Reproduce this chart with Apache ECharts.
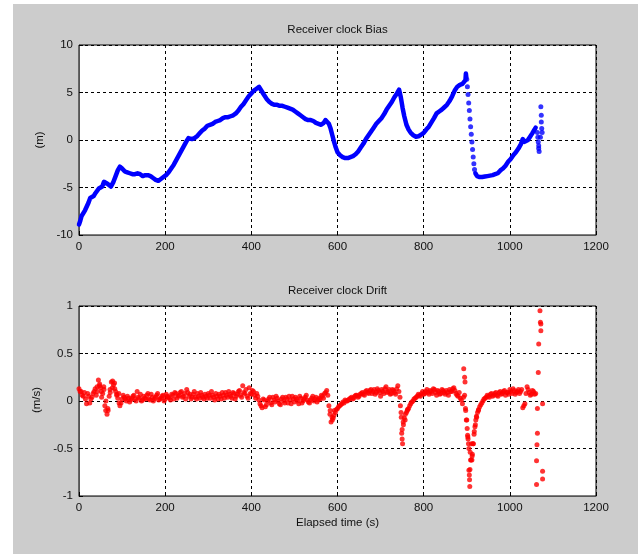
<!DOCTYPE html>
<html>
<head>
<meta charset="utf-8">
<script src="https://cdn.jsdelivr.net/npm/echarts@6/dist/echarts.min.js"></script>
<style>
  html, body { margin: 0; padding: 0; background: #ffffff; }
  #fig { position: absolute; left: 13px; top: 4px; width: 625px; height: 550px; }
</style>
</head>
<body>
<div id="fig"></div>
<script>
// Receiver clock bias (m): continuous trace up to the jump near 900 s
const biasT1 = [0,3,6,10,14,18,22,26,30,34,38,42,46,50,54,58,62,66,70,74,77,80,85,90,95,100,106,112,118,124,130,136,142,148,154,160,166,172,178,184,190,196,202,208,214,220,226,232,238,244,250,254,258,262,268,274,280,286,292,298,304,310,316,322,328,334,340,346,352,358,364,370,376,382,388,394,400,406,412,418,422,426,430,436,442,448,454,460,466,472,478,484,490,496,502,508,514,520,526,532,538,544,550,556,562,568,572,576,580,584,588,592,596,600,606,612,618,624,630,636,642,648,654,660,666,672,678,684,690,696,702,708,714,720,726,732,738,743,747,751,755,760,765,770,776,782,788,794,800,806,812,818,824,830,836,842,848,854,860,866,872,878,884,890,894,897,898,899];
const biasV1 = [-8.9,-8.5,-8.0,-7.8,-7.4,-7.2,-6.6,-6.1,-6.0,-5.9,-5.6,-5.4,-5.1,-5.0,-4.9,-4.4,-4.3,-4.6,-4.5,-4.9,-5.1,-4.4,-3.8,-3.2,-2.8,-3.0,-3.3,-3.4,-3.5,-3.6,-3.6,-3.5,-3.6,-3.8,-3.7,-3.7,-3.8,-4.0,-4.2,-4.3,-4.1,-3.9,-3.7,-3.4,-3.0,-2.6,-2.1,-1.6,-1.1,-0.6,-0.1,0.2,0.2,0.1,0.2,0.4,0.7,1.0,1.2,1.5,1.6,1.7,1.9,2.0,2.1,2.3,2.4,2.4,2.5,2.6,2.8,3.1,3.5,3.8,4.2,4.6,4.9,5.2,5.4,5.6,5.4,5.0,4.7,4.3,4.0,3.8,3.7,3.7,3.6,3.6,3.5,3.4,3.3,3.2,3.0,2.8,2.6,2.4,2.2,2.1,2.1,2.0,1.8,1.7,1.6,1.8,2.1,1.9,1.7,1.2,0.5,-0.2,-0.8,-1.3,-1.6,-1.8,-1.9,-1.9,-1.8,-1.7,-1.5,-1.2,-0.8,-0.4,0.1,0.5,0.9,1.3,1.7,2.0,2.3,2.7,3.2,3.6,4.0,4.5,4.9,5.3,4.5,3.4,2.5,1.6,1.1,0.75,0.5,0.35,0.4,0.55,0.75,1.1,1.4,1.85,2.3,2.8,3.0,3.2,3.45,3.7,4.1,4.6,5.2,5.6,5.8,5.9,6.0,6.3,7.0,6.6];
// Individual samples during the fast drop after 900 s
const biasDropT = [900,901.5,903,904.5,906,907.5,909,910.5,912,913.5,915,916.5,918];
const biasDropV = [6.4,5.6,4.8,3.9,3.1,2.2,1.4,0.6,-0.2,-1.0,-1.8,-2.5,-3.1];
// Continuous trace after the drop
const biasT2 = [920,924,930,936,942,948,954,960,966,972,978,984,990,996,1002,1008,1014,1020,1026,1030,1034,1038,1042,1047,1052,1056,1060];
const biasV2 = [-3.5,-3.8,-3.9,-3.9,-3.85,-3.8,-3.75,-3.7,-3.6,-3.5,-3.2,-3.0,-2.7,-2.3,-2.0,-1.6,-1.3,-0.9,-0.4,0.1,-0.2,-0.4,0.0,0.35,0.7,1.0,1.3];
// Scattered samples at the end of the record
const biasEndT = [1064,1065,1066,1067,1067,1068,1071,1072,1073,1073,1074,1075];
const biasEndV = [0.8,0.3,-0.2,-0.6,-0.9,-1.2,0.3,3.5,2.6,1.9,1.2,0.8];

// Receiver clock drift (m/s), samples every 5 s from 0 s to 1060 s
const driftStart = 0;
const driftStep = 5;
const driftV = [
  0.13,0.10,0.05,0.02,0.08,-0.02,0.04,0.10,0.06,
  0.22,0.14,0.08,-0.05,-0.14,0.05,0.20,0.17,0.10,0.03,-0.05,0.02,
  0.04,0.00,0.03,0.01,0.05,0.02,0.10,0.03,0.00,0.05,0.02,0.08,0.01,0.04,0.02,0.06,0.01,0.03,0.06,0.02,
  0.05,0.03,0.07,0.02,0.08,0.05,0.09,0.04,0.08,0.12,0.05,0.02,0.07,0.04,0.08,0.03,0.06,0.02,0.05,0.08,
  0.03,0.06,0.01,0.05,0.07,0.02,0.06,0.09,0.04,0.07,0.03,0.08,0.05,0.10,0.06,0.16,0.08,0.05,0.14,0.07,
  0.10,0.03,0.05,-0.03,-0.07,0.01,-0.04,0.02,-0.02,0.04,-0.01,0.03,-0.03,0.02,0.00,0.04,-0.02,0.01,0.05,-0.01,
  0.02,-0.03,0.03,0.00,0.04,0.01,-0.02,0.03,0.00,0.04,0.01,0.02,0.05,0.08,0.11,-0.05,
  -0.22,-0.18,-0.12,-0.08,-0.05,-0.03,-0.02,0.00,0.01,0.03,0.02,0.05,0.06,0.05,0.08,0.07,0.10,0.09,0.11,0.08,
  0.12,0.09,0.11,0.05,0.10,0.13,0.09,0.12,0.08,0.11,0.07,0.16,0.04,
  -0.30,-0.18,-0.12,-0.08,-0.03,0.00,0.03,0.05,0.06,0.08,0.07,0.10,0.09,0.11,0.08,0.12,0.06,0.10,0.08,0.11,
  0.07,0.09,0.12,0.10,0.14,0.08,0.05,0.03,-0.03,0.06,
  -0.20,-0.50,-0.62,-0.45,-0.25,-0.12,-0.06,-0.02,0.02,0.04,0.05,0.07,0.05,0.08,0.06,0.09,0.07,0.10,0.06,0.09,
  0.12,0.08,0.11,0.09,0.12,0.10,-0.07,-0.03,0.15,0.09,0.07,0.10,0.08
];
// Interleaved drift samples, every 5 s from 2.5 s to 1057.5 s
const driftMidStart = 2.5;
const driftMidV = [
  0.10,0.06,0.09,-0.03,0.05,0.02,0.08,0.13,0.10,0.16,
  0.04,0.15,0.00,-0.10,0.09,0.14,0.19,0.06,0.08,-0.02,
  0.06,0.02,0.05,-0.01,0.03,0.06,0.00,0.04,0.07,0.01,
  0.03,0.06,0.02,0.07,0.00,0.04,0.08,0.02,0.05,0.00,
  0.07,0.04,0.01,0.06,0.09,0.03,0.06,0.10,0.05,0.02,
  0.09,0.07,0.04,0.10,0.02,0.05,0.09,0.04,0.07,0.03,
  0.06,0.10,0.04,0.08,0.02,0.05,0.09,0.03,0.06,0.10,
  0.05,0.09,0.02,0.07,0.11,0.04,0.09,0.12,0.03,0.08,
  0.11,0.06,0.08,0.01,-0.05,0.02,-0.06,0.00,0.04,-0.04,
  0.01,0.05,0.00,-0.04,0.04,-0.02,0.02,0.05,-0.03,0.02,
  0.04,0.00,0.05,-0.02,0.02,0.06,-0.01,0.01,0.05,0.02,
  -0.01,0.03,0.06,0.03,0.09,0.06,-0.14,-0.17,-0.10,-0.09,
  -0.06,-0.04,-0.01,0.01,0.00,0.02,0.04,0.03,0.06,0.04,
  0.07,0.09,0.06,0.11,0.08,0.12,0.10,0.07,0.13,0.09,
  0.12,0.08,0.15,0.10,0.07,0.12,0.09,0.13,0.10,-0.12,
  -0.22,-0.14,-0.09,-0.05,-0.01,0.02,0.04,0.07,0.05,0.10,
  0.08,0.12,0.07,0.10,0.13,0.09,0.11,0.07,0.12,0.09,
  0.11,0.06,0.10,0.13,0.11,0.06,0.09,0.01,0.04,-0.10,
  -0.38,-0.72,-0.58,-0.32,-0.16,-0.09,-0.04,0.00,0.03,0.06,
  0.04,0.08,0.06,0.09,0.05,0.10,0.08,0.11,0.09,0.07,
  0.10,0.13,0.07,0.10,0.08,0.12,-0.05,0.08,0.12,0.06,
  0.11,0.07
];
// Additional drift samples around the transients and at the end of the record
const driftExtraT = [42,48,52,58,62,67,72,78,83,88,93,583,588,592,746,748,749,750,751,753,757,762,893,895,896,897,899,901,902,903,904,905,906,906.5,907,908,909,911,912,913,915,917,919,921,923,927,1062,1062,1063,1064,1064,1066,1067,1070,1071,1072,1072,1076,1076,1076];
const driftExtraV = [0.15,0.18,0.10,0.12,-0.10,-0.08,0.12,0.21,0.13,0.07,-0.02,-0.10,-0.20,-0.15,-0.05,-0.17,-0.34,-0.40,-0.45,-0.25,-0.20,-0.10,0.34,0.25,0.20,-0.08,-0.20,-0.29,-0.36,-0.40,-0.45,-0.73,-0.78,-0.83,-0.90,-0.54,-0.62,-0.45,-0.62,-0.56,-0.45,-0.35,-0.27,-0.20,-0.17,-0.10,-0.88,-0.63,-0.46,-0.34,-0.08,0.30,0.60,0.95,0.83,0.81,0.74,-0.03,-0.74,-0.82];

// Axis ticks
const timeTicks = { min: 0, max: 1200, step: 200 };
const biasTicks = { min: -10, max: 10, step: 5 };
const driftTicks = { min: -1, max: 1, step: 0.5 };

const pairs = (ts, vs) => ts.map((t, i) => [t, vs[i]]);
const driftData = driftV.map((v, i) => [driftStart + i * driftStep, v])
  .concat(driftMidV.map((v, i) => [driftMidStart + i * driftStep, v]));

const FONT = '"Liberation Sans", Arial, sans-serif';
const TXT = '#111111';
const FS = 11.5;
const plain = (v) => String(v);

function xAxisFor(gridIndex) {
  return {
    type: 'value', gridIndex,
    min: timeTicks.min, max: timeTicks.max, interval: timeTicks.step,
    axisLine: { show: true, onZero: false, lineStyle: { color: '#555555', width: 1 } },
    axisTick: { show: true, inside: true, length: 4, lineStyle: { color: '#000000' } },
    axisLabel: { color: TXT, fontFamily: FONT, fontSize: FS, margin: 6, formatter: plain },
    splitLine: { show: true, lineStyle: { color: '#000000', width: 1, type: [3, 3] } }
  };
}
function yAxisFor(gridIndex, ticks) {
  return {
    type: 'value', gridIndex,
    min: ticks.min, max: ticks.max, interval: ticks.step,
    axisLine: { show: true, onZero: false, lineStyle: { color: '#555555', width: 1 } },
    axisTick: { show: true, inside: true, length: 4, lineStyle: { color: '#000000' } },
    axisLabel: { color: TXT, fontFamily: FONT, fontSize: FS, margin: 6, formatter: plain },
    splitLine: { show: true, lineStyle: { color: '#000000', width: 1, type: [3, 3] } }
  };
}

const chart = echarts.init(document.getElementById('fig'), null, { renderer: 'canvas' });

const textStyle = (extra) => Object.assign({ fill: TXT, font: FS + 'px ' + FONT, textAlign: 'center', textVerticalAlign: 'middle' }, extra || {});

chart.setOption({
  backgroundColor: '#cccccc',
  animation: false,
  grid: [
    { left: 66, top: 41, width: 517, height: 190, show: true, backgroundColor: '#ffffff', borderColor: '#000000', borderWidth: 1 },
    { left: 66, top: 302, width: 517, height: 190, show: true, backgroundColor: '#ffffff', borderColor: '#000000', borderWidth: 1 }
  ],
  xAxis: [xAxisFor(0), xAxisFor(1)],
  yAxis: [yAxisFor(0, biasTicks), yAxisFor(1, driftTicks)],
  graphic: [
    { type: 'text', x: 324.5, y: 26, style: textStyle({ text: 'Receiver clock Bias' }) },
    { type: 'text', x: 324.5, y: 287, style: textStyle({ text: 'Receiver clock Drift' }) },
    { type: 'text', x: 324.5, y: 519, style: textStyle({ text: 'Elapsed time (s)' }) },
    { type: 'text', x: 27, y: 136, rotation: Math.PI / 2, style: textStyle({ text: '(m)' }) },
    { type: 'text', x: 24, y: 396, rotation: Math.PI / 2, style: textStyle({ text: '(m/s)' }) }
  ],
  series: [
    {
      type: 'line', xAxisIndex: 0, yAxisIndex: 0, data: pairs(biasT1, biasV1),
      showSymbol: false, lineStyle: { color: '#0000ff', width: 4.5, cap: 'round', join: 'round' }
    },
    {
      type: 'line', xAxisIndex: 0, yAxisIndex: 0, data: pairs(biasT2, biasV2),
      showSymbol: false, lineStyle: { color: '#0000ff', width: 4.5, cap: 'round', join: 'round' }
    },
    {
      type: 'scatter', xAxisIndex: 0, yAxisIndex: 0,
      data: pairs(biasDropT, biasDropV).concat(pairs(biasEndT, biasEndV)),
      symbolSize: 5, itemStyle: { color: '#0000ff' }
    },
    {
      type: 'scatter', xAxisIndex: 1, yAxisIndex: 1,
      data: driftData.concat(pairs(driftExtraT, driftExtraV)),
      symbolSize: 5, itemStyle: { color: '#ff0000' }
    }
  ]
});
</script>
</body>
</html>
